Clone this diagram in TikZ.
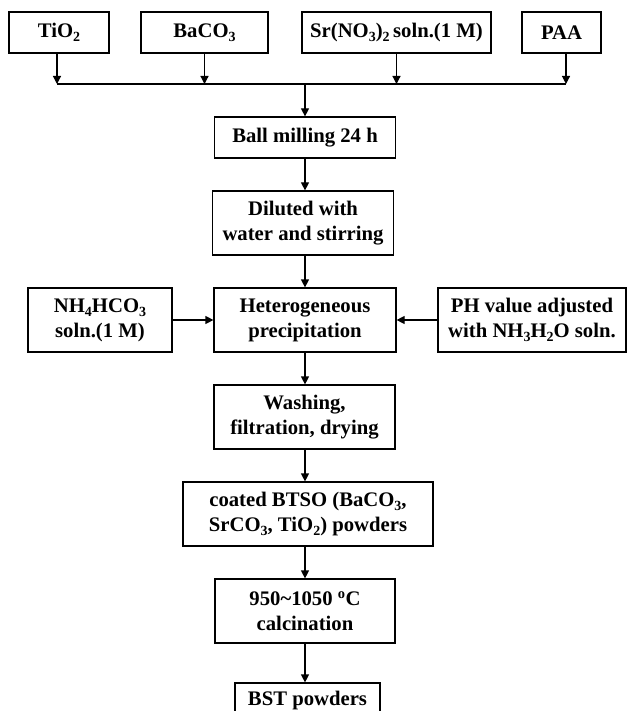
\documentclass[tikz,border=0pt]{standalone}
\usepackage{fontspec}
\setmainfont{Liberation Serif}
\usetikzlibrary{arrows.meta}
\newcommand\sbs[1]{\raisebox{-4.5pt}{\fontsize{14}{14}\selectfont #1}}
\begin{document}
\begin{tikzpicture}[x=1pt,y=-1pt,
  box/.style={draw, line width=1.2pt, align=center, inner sep=0pt,
    font=\fontsize{20.7}{25}\selectfont\bfseries},
  arr/.style={line width=1.2pt, -{Triangle[length=8pt,width=8pt]}},
  ln/.style={line width=1.2pt}]
\useasboundingbox (0,0) rectangle (627,711);
% top inputs
\node[box, minimum width=100pt, minimum height=41pt] (tio) at (59,32.5) {TiO\sbs{2}};
\node[box, minimum width=127pt, minimum height=41pt] (baco) at (204.5,32.5) {BaCO\sbs{3}};
\node[box, minimum width=189pt, minimum height=41pt] (sr) at (396.5,32.5) {Sr(NO\sbs{3})\sbs{2}\,soln.(1 M)};
\node[box, minimum width=79pt, minimum height=41pt] (paa) at (561.5,32.5) {PAA};
% bus
\coordinate (busL) at (57,84);
\coordinate (busR) at (566,84);
\coordinate (bus) at (305,84);
\draw[ln] (busL) -- (busR);
\draw[arr] ([xshift=-2pt]tio.south) -- (busL);
\draw[arr] (baco.south) -- (baco.south |- busL);
\draw[arr] (sr.south) -- (sr.south |- busL);
\draw[arr] ([xshift=4.5pt]paa.south) -- (busR);
% main chain
\node[box, minimum width=181pt, minimum height=41pt] (ball) at (305,137.5) {Ball milling 24 h};
\node[box, minimum width=181pt, minimum height=64pt] (dil) at (303,223) {Diluted with\\water and stirring};
\node[box, minimum width=182pt, minimum height=64pt] (het) at (305,320) {Heterogeneous\\precipitation};
\node[box, minimum width=144pt, minimum height=64pt] (nh) at (100,320) {NH\sbs{4}HCO\sbs{3}\\soln.(1 M)};
\node[box, minimum width=188pt, minimum height=64pt] (ph) at (532,320) {PH value adjusted\\with NH\sbs{3}H\sbs{2}O soln.};
\node[box, minimum width=181pt, minimum height=64pt] (wash) at (304.5,417) {Washing,\\filtration, drying};
\node[box, minimum width=250pt, minimum height=64pt] (coat) at (308,514) {coated BTSO (BaCO\sbs{3},\\SrCO\sbs{3}, TiO\sbs{2}) powders};
\node[box, minimum width=180pt, minimum height=64pt] (calc) at (305,611) {950\textasciitilde1050 \textsuperscript{o}C\\calcination};
\node[box, minimum width=145pt, minimum height=36pt] (bst) at (307.5,701) {BST powders};
% connectors
\draw[arr] (bus) -- (bus |- ball.north);
\draw[arr] (bus |- ball.south) -- (bus |- dil.north);
\draw[arr] (bus |- dil.south) -- (bus |- het.north);
\draw[arr] (nh.east) -- (het.west);
\draw[arr] (ph.west) -- (het.east);
\draw[arr] (bus |- het.south) -- (bus |- wash.north);
\draw[arr] (bus |- wash.south) -- (bus |- coat.north);
\draw[arr] (bus |- coat.south) -- (bus |- calc.north);
\draw[arr] (bus |- calc.south) -- (bus |- bst.north);
\end{tikzpicture}
\end{document}
